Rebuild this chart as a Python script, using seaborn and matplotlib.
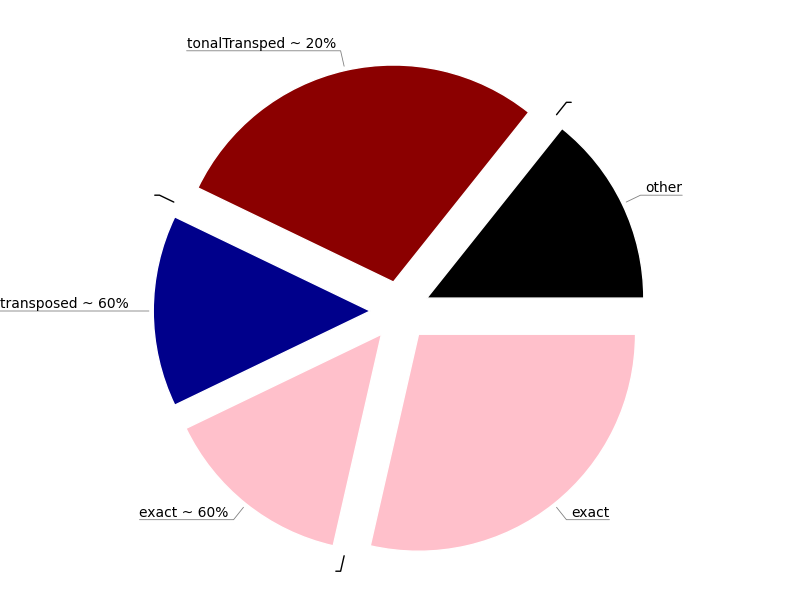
import numpy as np
import matplotlib
matplotlib.use("Agg")
import matplotlib.pyplot as plt
import seaborn as sns

# wedges counter-clockwise from 3 o'clock; empty labels are zero-size entries
labels = ["other", "", "tonalTransped ~ 20%", "", "transposed ~ 60%", "exact ~ 60%", "", "exact"]
counts = [1, 0, 2, 0, 1, 1, 0, 2]
colors = ["black", "white", "darkred", "white", "darkblue", "pink", "white", "pink"]

sns.set_style("white", {"text.color": "black"})

fig = plt.figure(figsize=(8, 6), dpi=100)
ax = fig.add_axes([0, 0, 1, 1])

explode = [0.137] * len(counts)
wedges, _ = ax.pie(counts, colors=colors, explode=explode, startangle=0, counterclock=True)

for w, lab, ex in zip(wedges, labels, explode):
    ang = (w.theta1 + w.theta2) / 2
    c, s = np.cos(np.deg2rad(ang)), np.sin(np.deg2rad(ang))
    r0 = 1 + ex + 0.02
    side = 1 if c >= 0 else -1
    if abs(s) < 1e-6:
        cs = "arc3"
    else:
        cs = f"angle,angleA=0,angleB={ang}"
    if lab == "":
        line = dict(color="black", lw=1.0)
    else:
        line = dict(color="gray", lw=0.6)
    ax.annotate(lab, xy=(r0 * c, r0 * s), xytext=(1.23 * c + side * 0.022, 1.23 * s),
                ha="left" if side > 0 else "right", va="bottom", fontsize=10,
                color="black",
                arrowprops=dict(arrowstyle="-", connectionstyle=cs,
                                relpos=(1 if side > 0 else 0, 0), patchA=None,
                                shrinkA=0, shrinkB=0, **line))

ax.set_xlim(-400 / 217, 400 / 217)
ax.set_ylim(-289 / 217, 311 / 217)
ax.axis("off")

plt.savefig("out.png", dpi=100)
